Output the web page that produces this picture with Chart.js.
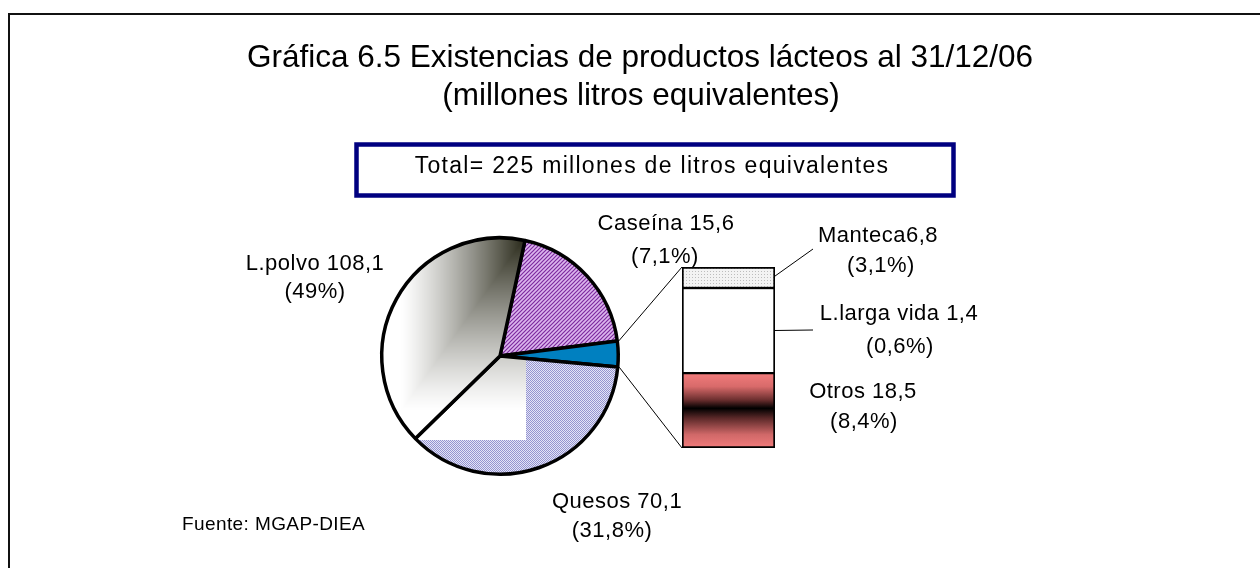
<!DOCTYPE html>
<html>
<head>
<meta charset="utf-8">
<title>Existencias de productos lácteos</title>
<script src="https://cdn.jsdelivr.net/npm/chart.js@4.4.0/dist/chart.umd.min.js"></script>
<style>
  html, body { margin: 0; padding: 0; background: #fff; }
  #wrap { position: relative; width: 1260px; height: 568px; overflow: hidden; }
  #pie { position: absolute; left: 0; top: 0; }
  #bar { position: absolute; left: 682px; top: 267px; }
</style>
</head>
<body>
<div id="wrap">
  <canvas id="pie" width="1260" height="568" style="width:1260px;height:568px"></canvas>
  <canvas id="bar" width="93" height="181" style="width:93px;height:181px"></canvas>
</div>
<script>
// datos
const pieLabels = ["Caseína", "Resto", "Quesos", "L.polvo"];
const pieShare = [19.6, 3.5, 36.2, 40.7];        // tamaño de cada porción tal como se ve (%)
const barLabels = ["Otros", "L.larga vida", "Manteca"];
const barShare = [41.4, 47.0, 11.6];             // tramos de la barra, de abajo hacia arriba (%)

const products = ["L.polvo", "Quesos", "Caseína", "Manteca", "L.larga vida", "Otros"];
const joiners = [" ", " ", " ", "", " ", " "];
const volumes = [108.1, 70.1, 15.6, 6.8, 1.4, 18.5];
const percents = [49, 31.8, 7.1, 3.1, 0.6, 8.4];
const totalVolume = 225;

const titleLines = ["Gráfica 6.5 Existencias de productos lácteos al 31/12/06", "(millones litros equivalentes)"];
const source = "Fuente: MGAP-DIEA";

// posiciones de etiquetas: x1, base1, x2, base2
const tagPos = [
  [315, 270, 315, 298],
  [617, 508, 612, 537],
  [666, 230, 665, 263],
  [878, 242, 881, 272],
  [899, 320, 900, 353],
  [863, 398, 864, 428]
];
const leaderEnd = { 3: [813, 249], 4: [813, 330] };

const FONT = "'Liberation Sans', Arial, sans-serif";
const pieRotation = 12.2;

function fmt(v) { return String(v).replace(".", ","); }

function smallPattern(size, paint) {
  const c = document.createElement("canvas");
  c.width = size; c.height = size;
  paint(c.getContext("2d"));
  return c;
}

const casTile = smallPattern(4, function (g) {
  g.fillStyle = "#dcb6ee"; g.fillRect(0, 0, 4, 4);
  g.strokeStyle = "#7d2a9e"; g.lineWidth = 1.2;
  g.beginPath();
  g.moveTo(-1, 5); g.lineTo(5, -1);
  g.moveTo(-1, 1); g.lineTo(1, -1);
  g.moveTo(3, 5); g.lineTo(5, 3);
  g.stroke();
});
const quesoTile = smallPattern(2, function (g) {
  g.fillStyle = "#e4e4f6"; g.fillRect(0, 0, 2, 2);
  g.fillStyle = "#9494d0"; g.fillRect(0, 0, 1, 1); g.fillRect(1, 1, 1, 1);
});
const mantecaTile = smallPattern(3, function (g) {
  g.fillStyle = "#f3f3f3"; g.fillRect(0, 0, 3, 3);
  g.fillStyle = "#bdbdbd"; g.fillRect(1, 1, 1, 1);
});

function sliceAngles(i) {
  const total = pieShare.reduce((a, b) => a + b, 0);
  let a = (pieRotation - 90) * Math.PI / 180;
  for (let k = 0; k < i; k++) a += pieShare[k] / total * 2 * Math.PI;
  return [a, a + pieShare[i] / total * 2 * Math.PI];
}

function sliceBox(cx, cy, r, a0, a1) {
  const xs = [cx], ys = [cy];
  const angs = [a0, a1];
  for (let k = -4; k <= 8; k++) {
    const q = k * Math.PI / 2;
    if (q > a0 && q < a1) angs.push(q);
  }
  angs.forEach(function (a) { xs.push(cx + r * Math.cos(a)); ys.push(cy + r * Math.sin(a)); });
  return { x0: Math.min(...xs), x1: Math.max(...xs), y0: Math.min(...ys), y1: Math.max(...ys) };
}

// textura: puntos lila + degradado desde la esquina para L.polvo (como Excel)
let texCache = null;
function texture(chart) {
  const area = chart.chartArea;
  if (!area || area.right - area.left < 10) return "#c4c4e6";
  const key = area.left + "," + area.top + "," + area.right + "," + area.bottom;
  if (texCache && texCache.key === key) return texCache.pat;
  const W = chart.width, H = chart.height;
  const off = document.createElement("canvas");
  off.width = W; off.height = H;
  const g = off.getContext("2d");
  g.fillStyle = g.createPattern(quesoTile, "repeat");
  g.fillRect(0, 0, W, H);
  const cx = (area.left + area.right) / 2, cy = (area.top + area.bottom) / 2;
  const r = Math.min(area.right - area.left, area.bottom - area.top) / 2;
  const ang = sliceAngles(3);
  const b = sliceBox(cx, cy, r, ang[0], ang[1]);
  const x0 = Math.floor(b.x0), y0 = Math.floor(b.y0);
  const w = Math.ceil(b.x1) - x0, h = Math.ceil(b.y1) - y0;
  const img = g.createImageData(w, h);
  for (let j = 0; j < h; j++) {
    for (let i = 0; i < w; i++) {
      const fx = (i + 0.5) / w, fy = 1 - (j + 0.5) / h;
      let s = (Math.min(fx, fy) - 0.14) / 0.86;
      s = Math.pow(Math.max(0, Math.min(1, s)), 1.25);
      const p = (j * w + i) * 4;
      img.data[p] = 255 - s * (255 - 38);
      img.data[p + 1] = 255 - s * (255 - 38);
      img.data[p + 2] = 255 - s * (255 - 22);
      img.data[p + 3] = 255;
    }
  }
  g.putImageData(img, x0, y0);
  texCache = { key: key, pat: chart.ctx.createPattern(off, "no-repeat") };
  return texCache.pat;
}

const pieCtx = document.getElementById("pie").getContext("2d");
const casPattern = pieCtx.createPattern(casTile, "repeat");

function pieFill(c) {
  if (c.dataIndex === 0) return casPattern;
  if (c.dataIndex === 1) return "#0080c0";
  return texture(c.chart);
}

function otrosFill(c) {
  const ch = c.chart;
  if (!ch.chartArea) return "#f08080";
  const y = ch.scales.y;
  const grd = ch.ctx.createLinearGradient(0, y.getPixelForValue(barShare[0]), 0, y.getPixelForValue(0));
  grd.addColorStop(0, "#f27c7c");
  grd.addColorStop(0.18, "#d86a6a");
  grd.addColorStop(0.36, "#6a2e2e");
  grd.addColorStop(0.47, "#000000");
  grd.addColorStop(0.6, "#5a2828");
  grd.addColorStop(0.82, "#d06868");
  grd.addColorStop(1, "#f27c7c");
  return grd;
}

const barCtx = document.getElementById("bar").getContext("2d");
const barFills = [otrosFill, "#ffffff", barCtx.createPattern(mantecaTile, "repeat")];
const barBorders = [
  { top: 1.5, right: 2, bottom: 2, left: 2 },
  { top: 1.5, right: 2, bottom: 1.5, left: 2 },
  { top: 2, right: 2, bottom: 1.5, left: 2 }
];

const barChart = new Chart(document.getElementById("bar"), {
  type: "bar",
  data: {
    labels: ["Resto"],
    datasets: barLabels.map(function (name, i) {
      return {
        label: name,
        data: [barShare[i]],
        backgroundColor: barFills[i],
        borderColor: "#000",
        borderWidth: barBorders[i],
        borderSkipped: false,
        barPercentage: 1,
        categoryPercentage: 1
      };
    })
  },
  options: {
    responsive: false,
    animation: false,
    events: [],
    layout: { padding: 0 },
    scales: {
      x: { stacked: true, display: false },
      y: { stacked: true, display: false, min: 0, max: 100 }
    },
    plugins: { legend: { display: false }, title: { display: false }, tooltip: { enabled: false } }
  }
});

const decor = {
  id: "decor",
  afterDraw: function (chart) {
    const ctx = chart.ctx;
    ctx.save();

    // marco
    ctx.strokeStyle = "#111";
    ctx.lineWidth = 2;
    ctx.strokeRect(9, 14, 1400, 700);

    ctx.fillStyle = "#000";
    ctx.textAlign = "center";
    ctx.textBaseline = "alphabetic";

    // titulo
    ctx.font = "31.5px " + FONT;
    ctx.fillText(titleLines[0], 640, 67);
    ctx.fillText(titleLines[1], 641, 105);

    // recuadro total
    ctx.strokeStyle = "#000080";
    ctx.lineWidth = 4.5;
    ctx.strokeRect(356.5, 144.5, 597, 51);
    ctx.font = "23px " + FONT;
    if ("letterSpacing" in ctx) ctx.letterSpacing = "1.3px";
    ctx.fillText("Total= " + totalVolume + " millones de litros equivalentes", 652, 173);

    // etiquetas
    ctx.font = "22px " + FONT;
    if ("letterSpacing" in ctx) ctx.letterSpacing = "0.5px";
    products.forEach(function (name, i) {
      const p = tagPos[i];
      ctx.fillText(name + joiners[i] + fmt(volumes[i]), p[0], p[1]);
      ctx.fillText("(" + fmt(percents[i]) + "%)", p[2], p[3]);
    });

    ctx.textAlign = "left";
    ctx.font = "19px " + FONT;
    if ("letterSpacing" in ctx) ctx.letterSpacing = "0.4px";
    ctx.fillText(source, 182, 530);
    if ("letterSpacing" in ctx) ctx.letterSpacing = "0px";

    // conectores porción -> barra
    const arc = chart.getDatasetMeta(0).data[1];
    const R = arc.outerRadius + 1.5;
    const canvasB = barChart.canvas;
    const ox = canvasB.offsetLeft, oy = canvasB.offsetTop;
    const bottomSeg = barChart.getDatasetMeta(0).data[0];
    const topSeg = barChart.getDatasetMeta(barLabels.length - 1).data[0];
    const barLeft = ox + bottomSeg.x - bottomSeg.width / 2;
    const barRight = ox + bottomSeg.x + bottomSeg.width / 2;
    ctx.strokeStyle = "#000";
    ctx.lineWidth = 1;
    ctx.beginPath();
    ctx.moveTo(arc.x + R * Math.cos(arc.startAngle), arc.y + R * Math.sin(arc.startAngle));
    ctx.lineTo(barLeft, oy + topSeg.y);
    ctx.moveTo(arc.x + R * Math.cos(arc.endAngle), arc.y + R * Math.sin(arc.endAngle));
    ctx.lineTo(barLeft, oy + bottomSeg.base);

    // lineas guia de Manteca y L.larga vida
    barLabels.forEach(function (name, i) {
      const k = products.indexOf(name);
      if (!leaderEnd[k]) return;
      const el = barChart.getDatasetMeta(i).data[0];
      ctx.moveTo(barRight - 2, oy + (el.y + el.base) / 2);
      ctx.lineTo(leaderEnd[k][0], leaderEnd[k][1]);
    });
    ctx.stroke();
    ctx.restore();
  }
};

new Chart(document.getElementById("pie"), {
  type: "pie",
  data: {
    labels: pieLabels,
    datasets: [{
      data: pieShare,
      backgroundColor: pieFill,
      borderColor: "#000",
      borderWidth: 3.5
    }]
  },
  options: {
    responsive: false,
    animation: false,
    events: [],
    rotation: pieRotation,
    layout: { padding: { left: 380, right: 640, top: 236, bottom: 92 } },
    plugins: {
      legend: { display: false },
      title: { display: false },
      tooltip: { enabled: false }
    }
  },
  plugins: [decor]
});
</script>
</body>
</html>
